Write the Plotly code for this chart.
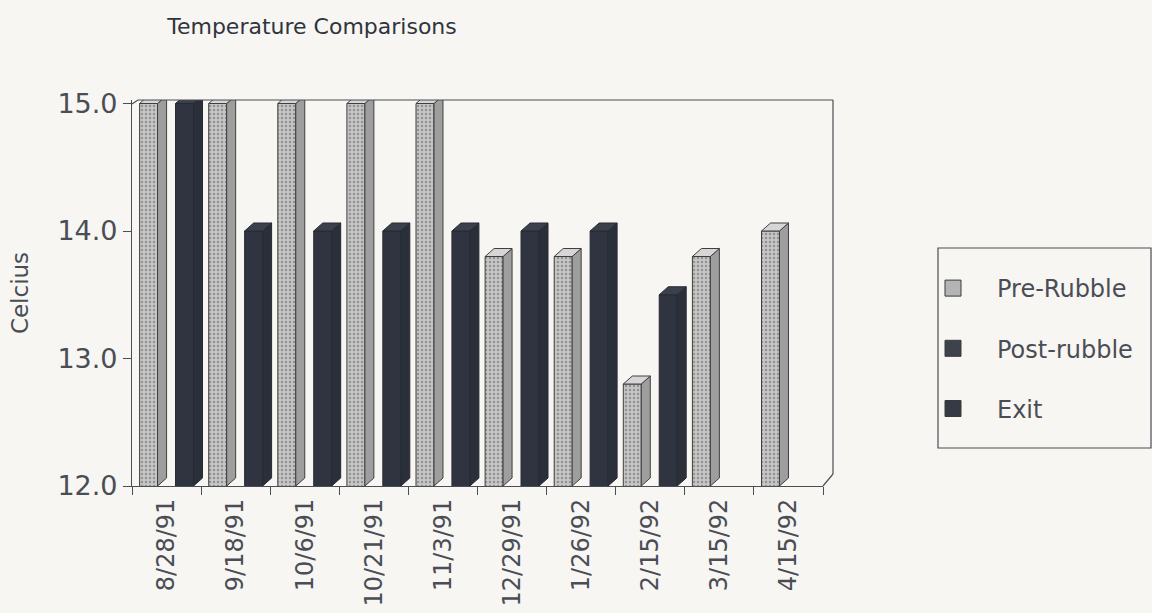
import plotly.graph_objects as go

# ---- data ----
dates = ["8/28/91", "9/18/91", "10/6/91", "10/21/91", "11/3/91",
         "12/29/91", "1/26/92", "2/15/92", "3/15/92", "4/15/92"]
pre_rubble = [15.0, 15.0, 15.0, 15.0, 15.0, 13.8, 13.8, 12.8, 13.8, 14.0]
post_rubble = [None] * 10
exit_temp = [15.0, 14.0, 14.0, 14.0, 14.0, 14.0, 14.0, 13.5, None, None]
y_ticks = [12.0, 13.0, 14.0, 15.0]
series_names = ["Pre-Rubble", "Post-rubble", "Exit"]

# ---- geometry (pixels of the 1152x613 page) ----
W, H = 1152, 613
PL, PR, PT, PB = 132, 823, 100, 486          # plot area
Y0 = 12.0
Y_PER_PX = 3.0 / (486 - 103.5)
Y1 = Y0 + (PB - PT) * Y_PER_PX
X_PER_PX = 10.0 / (PR - PL)

BG = "#f7f6f2"
INK = "#4a4d55"
DARK = "#2f3440"
FONT = "DejaVu Sans"

n = len(dates)
xs = list(range(n))
bargap = 0.22
bw = (1 - bargap) / 3.0
offsets = [-bw, 0.0, bw]

pre_marker = dict(color="#bdbdbd",
                  pattern=dict(shape=".", fgcolor="#5e5e5e", bgcolor="#c6c6c6",
                               size=4, solidity=0.3),
                  line=dict(color="#3f3f3f", width=1))
post_marker = dict(color="#3b404b", line=dict(color="#2a2e36", width=1))
exit_marker = dict(color=DARK, line=dict(color="#262a33", width=1))

fig = go.Figure()
for name, vals, mk in zip(series_names, [pre_rubble, post_rubble, exit_temp],
                          [pre_marker, post_marker, exit_marker]):
    fig.add_trace(go.Bar(name=name, x=xs, y=vals, marker=mk,
                         showlegend=False))

# legend entries with larger swatches
legend_colors = ["#b4b4b4", "#3d424d", "#353a45"]
for i, (name, c) in enumerate(zip(series_names, legend_colors)):
    fig.add_trace(go.Scatter(
        name=name, x=[None], y=[None], mode="markers", legendgroup=f"g{i}",
        marker=dict(symbol="square", size=18, color=c,
                    line=dict(color="#3a3a3a", width=1)),
        hoverinfo="skip"))

# ---- pseudo-3D side and top faces, computed from the data ----
dx = 9 * X_PER_PX
dy = 8 * Y_PER_PX
shapes = []
series = [(pre_rubble, offsets[0], "#9e9e9e", "#d6d6d6", "#3f3f3f"),
          (post_rubble, offsets[1], "#3b404b", "#4a505c", "#2a2e36"),
          (exit_temp, offsets[2], "#2a2f3a", "#3a404c", "#262a33")]
for vals, off, side_c, top_c, line_c in series:
    for i, v in enumerate(vals):
        if v is None:
            continue
        xl = i + off - bw / 2
        xr = i + off + bw / 2
        side = (f"M {xr},{Y0} L {xr + dx},{Y0 + dy} L {xr + dx},{v + dy} "
                f"L {xr},{v} Z")
        top = (f"M {xl},{v} L {xl + dx},{v + dy} L {xr + dx},{v + dy} "
               f"L {xr},{v} Z")
        for p, c in ((side, side_c), (top, top_c)):
            shapes.append(dict(type="path", path=p, xref="x", yref="y",
                               fillcolor=c, line=dict(color=line_c, width=1),
                               layer="above"))


def px(xp):
    return (xp - PL) / (PR - PL)


def py(yp):
    return (PB - yp) / (PB - PT)


frame = dict(color=INK, width=1.2)
# back-wall outline
shapes += [
    dict(type="line", xref="paper", yref="paper", x0=px(PL), y0=py(104),
         x1=px(138), y1=py(PT), line=frame),
    dict(type="line", xref="paper", yref="paper", x0=px(138), y0=py(PT),
         x1=px(833), y1=py(PT), line=frame),
    dict(type="line", xref="paper", yref="paper", x0=px(833), y0=py(PT),
         x1=px(833), y1=py(474), line=frame),
    dict(type="line", xref="paper", yref="paper", x0=px(PR), y0=py(PB),
         x1=px(833), y1=py(474), line=frame),
]
# legend box
shapes.append(dict(type="rect", xref="paper", yref="paper",
                   x0=px(938), y0=py(248), x1=px(1151), y1=py(448),
                   line=dict(color=INK, width=1.2), fillcolor="rgba(0,0,0,0)"))

fig.update_layout(
    width=W, height=H,
    margin=dict(l=PL, r=W - PR, t=PT, b=H - PB, autoexpand=False),
    paper_bgcolor=BG, plot_bgcolor=BG,
    barmode="group", bargap=bargap, bargroupgap=0,
    font=dict(family=FONT, color=INK),
    title=dict(text="Temperature Comparisons", x=312 / W, xanchor="center",
               y=1 - 26 / H, yanchor="middle", automargin=False,
               font=dict(family=FONT, size=22, color="#30343d")),
    xaxis=dict(range=[-0.5, n - 0.5], tickmode="array", tickvals=xs,
               ticktext=dates, tickangle=-90, ticks="", showgrid=False,
               zeroline=False, showline=True, linecolor=INK, linewidth=1.2,
               automargin=False,
               tickfont=dict(family=FONT, size=24, color=INK),
               ticklabelstandoff=2,
               minor=dict(tickmode="array",
                          tickvals=[i - 0.5 for i in range(n + 1)],
                          ticks="outside", ticklen=8, tickcolor=INK,
                          tickwidth=1.2, showgrid=False)),
    yaxis=dict(range=[Y0, Y1], tickmode="array", tickvals=y_ticks,
               ticktext=[f"{v:.1f}" for v in y_ticks], ticks="outside",
               ticklen=8, tickcolor=INK, tickwidth=1.2, showgrid=False,
               zeroline=False, showline=True, linecolor=INK, linewidth=1.2,
               automargin=False,
               tickfont=dict(family=FONT, size=27, color=INK),
               title=dict(text="Celcius", standoff=22,
                          font=dict(family=FONT, size=23, color=INK))),
    legend=dict(x=px(909), xanchor="left", y=py(266), yanchor="top",
                bgcolor="rgba(0,0,0,0)", borderwidth=0, tracegroupgap=26,
                itemwidth=78,
                font=dict(family=FONT, size=24, color=INK)),
    shapes=shapes,
)

fig.write_html(
    "out.html",
    config={"displayModeBar": False},
    post_script="document.body.style.margin='0';"
                "document.body.style.overflow='hidden';")
